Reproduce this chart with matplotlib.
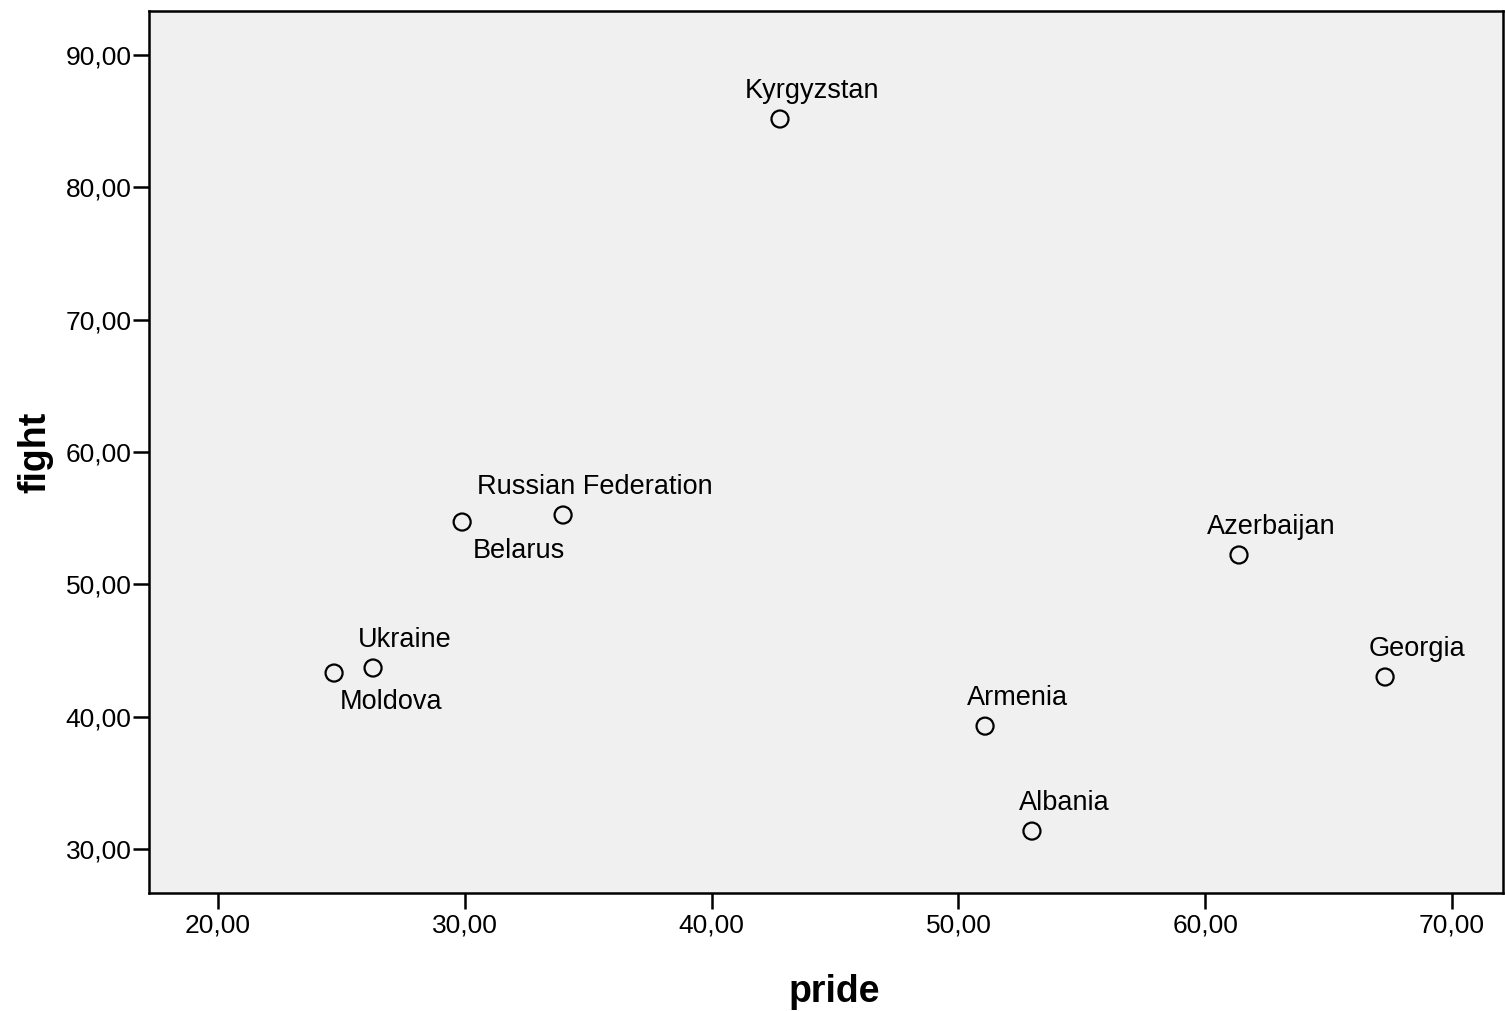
import matplotlib
matplotlib.use("Agg")
import matplotlib.pyplot as plt
from matplotlib.ticker import FuncFormatter

# country-level scores
countries = ["Kyrgyzstan", "Russian Federation", "Belarus", "Ukraine", "Moldova",
             "Azerbaijan", "Georgia", "Armenia", "Albania"]
pride = [42.77, 33.98, 29.89, 26.28, 24.70, 61.37, 67.29, 51.08, 52.98]
fight = [85.16, 55.24, 54.71, 43.68, 43.30, 52.22, 43.00, 39.29, 31.36]
label_below = ["Belarus", "Moldova"]

x_ticks = [20, 30, 40, 50, 60, 70]
y_ticks = [30, 40, 50, 60, 70, 80, 90]

plt.rcParams['font.family'] = ['Liberation Sans', 'DejaVu Sans']

fig = plt.figure(figsize=(15.05, 10.11), dpi=100)
ax = fig.add_axes([0.099, 0.1167, 0.8997, 0.8724])
ax.set_facecolor('#f0f0f0')

ax.scatter(pride, fight, s=150, facecolors='none', edgecolors='black',
           linewidths=1.6, zorder=3)

for name, px, py in zip(countries, pride, fight):
    if name in label_below:
        off = (57, -29)
    else:
        off = (32, 28)
    ax.annotate(name, (px, py), xytext=off, textcoords='offset pixels',
                ha='center', va='center', fontsize=19.5)

ax.set_xlim(17.2, 72.07)
ax.set_ylim(26.68, 93.32)
ax.set_xticks(x_ticks)
ax.set_yticks(y_ticks)
fmt = FuncFormatter(lambda v, p: f"{v:.2f}".replace('.', ','))
ax.xaxis.set_major_formatter(fmt)
ax.yaxis.set_major_formatter(fmt)
ax.tick_params(axis='both', length=11.5, width=1.8, labelsize=19, pad=3)
ax.tick_params(axis='y', pad=1)

for s in ax.spines.values():
    s.set_linewidth(1.8)

ax.set_xlabel("pride", fontsize=27, fontweight='bold', va='center')
ax.set_ylabel("fight", fontsize=27, fontweight='bold', va='center')
ax.xaxis.set_label_coords(0.506, -0.112)
ax.yaxis.set_label_coords(-0.084, 0.50)

plt.savefig("out.png", dpi=100)
